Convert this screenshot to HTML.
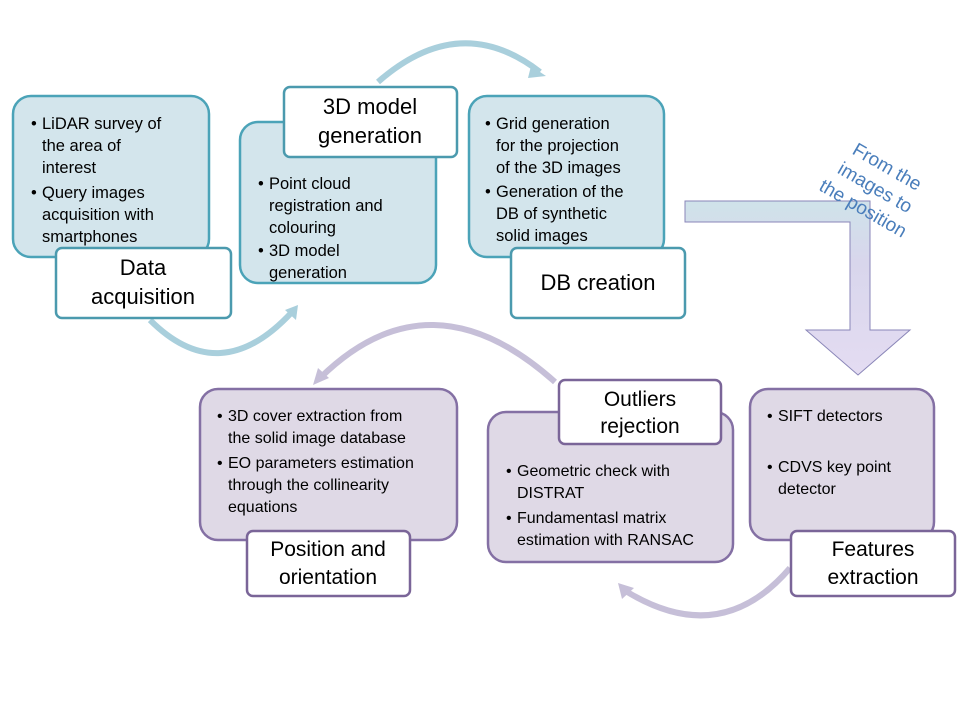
<!DOCTYPE html>
<html><head><meta charset="utf-8"><style>
html,body{margin:0;padding:0;background:#fff;}
svg text{font-family:"Liberation Sans",sans-serif;fill:#000;}
</style></head><body>
<svg width="960" height="720" viewBox="0 0 960 720" xmlns="http://www.w3.org/2000/svg">
<defs>
<linearGradient id="bg" x1="0" y1="0" x2="0" y2="1">
<stop offset="0" stop-color="#cfe3ea"/><stop offset="0.35" stop-color="#d8d6ec"/><stop offset="1" stop-color="#e4dcf2"/>
</linearGradient>
</defs>
<path d="M378,82 Q460,10 540,72" fill="none" stroke="#a9cfdc" stroke-width="6"/>
<path d="M531,66 L546,76 L528,78" fill="#a9cfdc"/>
<path d="M150,320 Q220,390 292,312" fill="none" stroke="#a9cfdc" stroke-width="6"/>
<path d="M285,310 L298,305 L296,320 Z" fill="#a9cfdc"/>
<path d="M555,382 Q430,270 320,378" fill="none" stroke="#c6bfd8" stroke-width="6"/>
<path d="M313,385 L318,368 L329,378 Z" fill="#c6bfd8"/>
<path d="M790,568 Q720,650 624,590" fill="none" stroke="#c6bfd8" stroke-width="6"/>
<path d="M618,583 L622,599 L634,588 Z" fill="#c6bfd8"/>
<path d="M685,201 L870,201 L870,330 L910,330 L858,375 L806,330 L850,330 L850,222 L685,222 Z" fill="url(#bg)" stroke="#8a86b8" stroke-width="1"/>
<g transform="translate(872,193) rotate(30)" font-size="19" text-anchor="middle">
<text x="0" y="-24" style="fill:#4a7ebb">From the</text>
<text x="0" y="0" style="fill:#4a7ebb">images to</text>
<text x="0" y="24" style="fill:#4a7ebb">the position</text>
</g>
<g fill="#d3e5ec" stroke="#4ba3b8" stroke-width="2.5">
<rect x="13" y="96" width="196" height="161" rx="18"/>
<rect x="240" y="122" width="196" height="161" rx="18"/>
<rect x="469" y="96" width="195" height="161" rx="18"/>
</g>
<g font-size="16.5">
<text x="31" y="129">•</text><text x="42" y="129">LiDAR survey of</text>
<text x="42" y="151">the area of</text><text x="42" y="173">interest</text>
<text x="31" y="198">•</text><text x="42" y="198">Query images</text>
<text x="42" y="220">acquisition with</text><text x="42" y="242">smartphones</text>
<text x="258" y="189">•</text><text x="269" y="189">Point cloud</text>
<text x="269" y="211">registration and</text><text x="269" y="233">colouring</text>
<text x="258" y="256">•</text><text x="269" y="256">3D model</text>
<text x="269" y="278">generation</text>
<text x="485" y="129">•</text><text x="496" y="129">Grid generation</text>
<text x="496" y="151">for the projection</text><text x="496" y="173">of the 3D images</text>
<text x="485" y="197">•</text><text x="496" y="197">Generation of the</text>
<text x="496" y="219">DB of synthetic</text><text x="496" y="241">solid images</text>
</g>
<g fill="#fff" stroke="#4b9aae" stroke-width="2.5">
<rect x="56" y="248" width="175" height="70" rx="6"/>
<rect x="284" y="87" width="173" height="70" rx="6"/>
<rect x="511" y="248" width="174" height="70" rx="6"/>
</g>
<g font-size="22" text-anchor="middle">
<text x="143" y="275">Data</text><text x="143" y="304">acquisition</text>
<text x="370" y="114">3D model</text><text x="370" y="143">generation</text>
<text x="598" y="290">DB creation</text>
</g>
<g fill="#dfd9e6" stroke="#8470a4" stroke-width="2.5">
<rect x="200" y="389" width="257" height="151" rx="18"/>
<rect x="488" y="412" width="245" height="150" rx="18"/>
<rect x="750" y="389" width="184" height="151" rx="18"/>
</g>
<g font-size="16">
<text x="217" y="421">•</text><text x="228" y="421">3D cover extraction from</text>
<text x="228" y="443">the solid image database</text>
<text x="217" y="468">•</text><text x="228" y="468">EO parameters estimation</text>
<text x="228" y="490">through the collinearity</text><text x="228" y="512">equations</text>
<text x="506" y="476">•</text><text x="517" y="476">Geometric check with</text>
<text x="517" y="498">DISTRAT</text>
<text x="506" y="523">•</text><text x="517" y="523">Fundamentasl matrix</text>
<text x="517" y="545">estimation with RANSAC</text>
<text x="767" y="421">•</text><text x="778" y="421">SIFT detectors</text>
<text x="767" y="472">•</text><text x="778" y="472">CDVS key point</text>
<text x="778" y="494">detector</text>
</g>
<g fill="#fff" stroke="#7a6598" stroke-width="2.5">
<rect x="247" y="531" width="163" height="65" rx="6"/>
<rect x="559" y="380" width="162" height="64" rx="6"/>
<rect x="791" y="531" width="164" height="65" rx="6"/>
</g>
<g font-size="21" text-anchor="middle">
<text x="328" y="556">Position and</text><text x="328" y="584">orientation</text>
<text x="640" y="406">Outliers</text><text x="640" y="433">rejection</text>
<text x="873" y="556">Features</text><text x="873" y="584">extraction</text>
</g>
</svg>
</body></html>
